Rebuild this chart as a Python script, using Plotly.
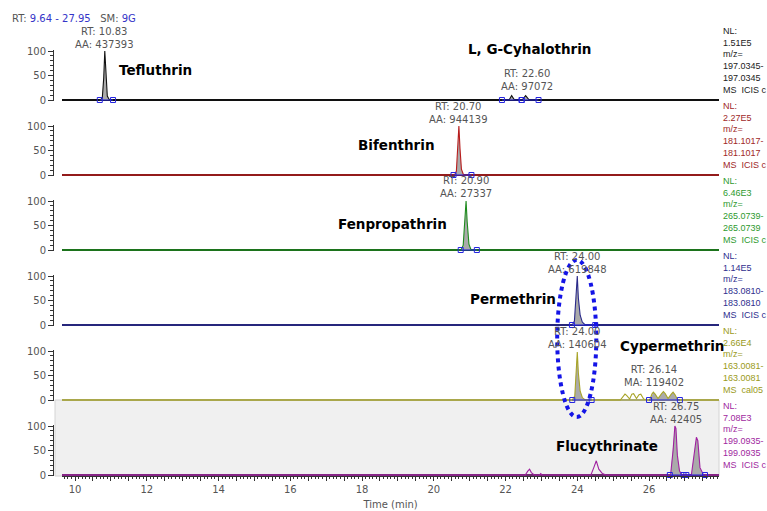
import plotly.graph_objects as go
import numpy as np

# ---------------- data ----------------
RT_WINDOW = [9.64, 27.95]

# panel 1 : m/z 197.0345 (Tefluthrin, L,G-Cyhalothrin)
time_1 = [9.64, 10.70, 10.76, 10.80, 10.83, 10.86, 10.90, 10.96, 22.10, 22.17, 22.25, 22.46, 22.56, 22.66, 22.80, 27.95]
inten_1 = [0, 0, 4, 45, 100, 50, 8, 0, 0, 9, 0, 0, 9, 0, 0, 0]
windows_1 = [(10.69, 11.06), (21.90, 22.45), (22.45, 22.92)]

# panel 2 : m/z 181.1017 (Bifenthrin)
time_2 = [9.64, 20.58, 20.63, 20.67, 20.70, 20.73, 20.77, 20.83, 27.95]
inten_2 = [0, 0, 8, 55, 100, 55, 12, 0, 0]
windows_2 = [(20.55, 21.05)]

# panel 3 : m/z 265.0739 (Fenpropathrin)
time_3 = [9.64, 20.76, 20.82, 20.87, 20.90, 20.93, 20.98, 21.04, 27.95]
inten_3 = [0, 0, 10, 62, 100, 58, 12, 0, 0]
windows_3 = [(20.75, 21.20)]

# panel 4 : m/z 183.0810 (Permethrin)
time_4 = [9.64, 23.86, 23.92, 23.97, 24.00, 24.03, 24.08, 24.14, 24.22, 27.95]
inten_4 = [0, 0, 8, 60, 100, 55, 20, 6, 0, 0]
windows_4 = [(23.85, 24.50)]

# panel 5 : m/z 163.0081 (Cypermethrin)
time_5 = [9.64, 23.86, 23.93, 23.97, 24.00, 24.03, 24.08, 24.14, 24.22, 25.20, 25.28, 25.33, 25.38,
          25.46, 25.52, 25.57, 25.65, 25.72, 25.77, 25.85, 25.95, 26.02, 26.08, 26.12, 26.17, 26.25,
          26.35, 26.40, 26.45, 26.53, 26.62, 26.67, 26.72, 26.80, 27.95]
inten_5 = [0, 0, 8, 60, 98, 55, 18, 5, 0, 0, 9, 12, 9, 2, 12, 13, 3, 11, 12, 2, 0, 0, 12, 16, 12, 3,
           13, 17, 13, 3, 12, 16, 11, 0, 0]
windows_5 = [(23.86, 24.40), (26.00, 26.86)]

# panel 6 : m/z 199.0935 (Flucythrinate)
time_6 = [9.64, 22.55, 22.62, 22.67, 22.72, 22.80, 22.95, 22.98, 23.02, 24.38, 24.46, 24.53, 24.60,
          24.70, 24.80, 26.60, 26.67, 26.72, 26.75, 26.79, 26.85, 26.92, 27.18, 27.25, 27.32, 27.36,
          27.42, 27.52, 27.95]
inten_6 = [0, 0, 8, 12, 5, 0, 0, 3, 0, 0, 15, 29, 12, 3, 0, 0, 50, 100, 95, 40, 8, 0, 0, 35, 77, 70,
           15, 0, 0]
windows_6 = [(26.58, 26.96), (27.04, 27.56)]

times = [time_1, time_2, time_3, time_4, time_5, time_6]
intens = [inten_1, inten_2, inten_3, inten_4, inten_5, inten_6]
windows = [windows_1, windows_2, windows_3, windows_4, windows_5, windows_6]

nl_values = ["1.51E5", "2.27E5", "6.46E3", "1.14E5", "2.66E4", "7.08E3"]
mz_values = ["197.0345", "181.1017", "265.0739", "183.0810", "163.0081", "199.0935"]
ms_labels = ["MS\u00a0 ICIS c", "MS\u00a0 ICIS c", "MS\u00a0 ICIS c", "MS\u00a0 ICIS c", "MS\u00a0 cal05", "MS\u00a0 ICIS c"]

label_panel = [1, 1, 2, 3, 4, 5, 5, 6]
label_rt = [10.83, 22.60, 20.70, 20.90, 24.00, 24.00, 26.14, 26.75]
label_area = ["AA: 437393", "AA: 97072", "AA: 944139", "AA: 27337", "AA: 619848",
              "AA: 140604", "MA: 119402", "AA: 42405"]

compound_names = ["Tefluthrin", "L, G-Cyhalothrin", "Bifenthrin", "Fenpropathrin",
                  "Permethrin", "Cypermethrin", "Flucythrinate"]

x_tick_labels = ["10", "12", "14", "16", "18", "20", "22", "24", "26"]

# ---------------- layout / style ----------------
FIG_W, FIG_H = 767, 511
ML, MR, MT, MB = 53, 48, 24, 35
PLOT_W = FIG_W - ML - MR
PLOT_H = FIG_H - MT - MB


def px_x(px):
    return (px - ML) / PLOT_W


def px_y(py):
    return (FIG_H - MB - py) / PLOT_H


baselines_px = [100, 175, 250, 325, 400, 475]
full_px = 49.0          # pixels for 0..100 %
yr = [-2, 102]
dom_h = full_px * (yr[1] - yr[0]) / 100.0
below = full_px * (0 - yr[0]) / 100.0

line_colors = ["#111111", "#B81C1C", "#1E8C1E", "#2A2A8A", "#A8A428", "#A020A0"]
base_colors = ["#111111", "#6E1A1A", "#1A5A1A", "#22226E", "#ABAB6E", "#6E2A6E"]
nl_colors = ["#222222", "#A02828", "#2E9A2E", "#2E2E8E", "#9A9A20", "#A028A0"]
label_offset_px = [62, 20, 62, 63, 62, 62, 24, 62]
name_pos_px = [(155, 70), (529, 49), (396, 145), (392, 224), (513, 299), (672, 346), (607, 446)]

TXT = "DejaVu Sans"
GRAY = "#555555"
AXC = "#333333"

fig = go.Figure()

for k in range(6):
    ya = "y" if k == 0 else f"y{k + 1}"
    t = np.array(times[k])
    v = np.array(intens[k])
    # grey integrated areas
    for (s, e) in windows[k]:
        m = (t >= s) & (t <= e)
        fig.add_trace(go.Scatter(x=t[m], y=v[m], mode="lines", fill="tozeroy",
                                 fillcolor="rgba(165,165,165,0.95)", line=dict(width=0),
                                 yaxis=ya, hoverinfo="skip", showlegend=False))
    # chromatogram
    fig.add_trace(go.Scatter(x=times[k], y=intens[k], mode="lines",
                             line=dict(color=line_colors[k], width=1.1),
                             yaxis=ya, hoverinfo="skip", showlegend=False))
    # integration baseline markers
    for (s, e) in windows[k]:
        fig.add_trace(go.Scatter(x=[s, e], y=[0, 0], mode="lines+markers",
                                 line=dict(color="#2424E0", width=1),
                                 marker=dict(symbol="square-open", size=5, color="#2424E0",
                                             line=dict(width=1)),
                                 cliponaxis=False, yaxis=ya, hoverinfo="skip", showlegend=False))

layout = dict(
    width=FIG_W, height=FIG_H,
    margin=dict(l=ML, r=MR, t=MT, b=MB, autoexpand=False),
    paper_bgcolor="white", plot_bgcolor="rgba(0,0,0,0)",
    hovermode=False, showlegend=False,
    font=dict(family=TXT, size=10, color=GRAY),
)

x_dom0 = px_x(62.1)
tickvals = list(np.arange(10, 27.51, 0.5))
ticktext = [x_tick_labels[int((tv - 10) / 2)] if abs(tv - round(tv)) < 1e-9 and int(round(tv)) % 2 == 0 else ""
            for tv in tickvals]
layout["xaxis"] = dict(
    domain=[x_dom0, 1], range=RT_WINDOW, anchor="y6", automargin=False,
    showline=True, linecolor=AXC, linewidth=1, showgrid=False, zeroline=False,
    ticks="outside", tickvals=tickvals, ticktext=ticktext, ticklen=4, tickcolor=AXC,
    minor=dict(dtick=0.1, tick0=0, ticklen=2, ticks="outside", tickcolor=AXC, showgrid=False),
    tickfont=dict(family=TXT, size=10, color=GRAY),
    title=dict(text="Time (min)", font=dict(family=TXT, size=10, color=GRAY), standoff=7),
)

for k in range(6):
    base = baselines_px[k]
    d0 = px_y(base + below)
    d1 = px_y(base + below - dom_h)
    key = "yaxis" if k == 0 else f"yaxis{k + 1}"
    layout[key] = dict(
        domain=[max(0, d0), min(1, d1)], range=yr, anchor="free", position=0, automargin=False,
        showline=True, linecolor=AXC, linewidth=1, showgrid=False,
        zeroline=True, zerolinecolor=base_colors[k], zerolinewidth=2,
        ticks="outside", tickvals=[0, 50, 100], ticklen=5, tickcolor=AXC,
        minor=dict(dtick=10, tick0=0, ticklen=3, ticks="outside", tickcolor=AXC, showgrid=False),
        tickfont=dict(family=TXT, size=10, color=GRAY),
    )

fig.update_layout(**layout)

# grey active pane (bottom panel)
fig.add_shape(type="rect", xref="paper", yref="paper",
              x0=px_x(55), x1=1, y0=0, y1=px_y(400),
              fillcolor="#F0F0F0", line=dict(color="#D4D4D4", width=1), layer="below")

# blue dotted ellipse
fig.add_shape(type="circle", xref="x", yref="paper",
              x0=23.44, x1=24.53, y0=px_y(417), y1=px_y(260),
              line=dict(color="#1414E6", width=4, dash="dot"), layer="above")

# header
fig.add_annotation(xref="paper", yref="paper", x=px_x(10), y=px_y(18), xanchor="left", yanchor="middle",
                   showarrow=False,
                   text="RT: <span style='color:#3434C8'>9.64 - 27.95</span>\u00a0\u00a0 SM: <span style='color:#3434C8'>9G</span>",
                   font=dict(family=TXT, size=10, color=GRAY))

# peak labels
for j in range(len(label_rt)):
    base = baselines_px[label_panel[j] - 1]
    fig.add_annotation(xref="x", yref="paper", x=label_rt[j], y=px_y(base - label_offset_px[j]),
                       xanchor="center", yanchor="middle", showarrow=False,
                       text=f"RT: {label_rt[j]:.2f}<br>{label_area[j]}",
                       font=dict(family=TXT, size=10, color=GRAY))

# compound names
for j, name in enumerate(compound_names):
    cx, cy = name_pos_px[j]
    fig.add_annotation(xref="paper", yref="paper", x=px_x(cx), y=px_y(cy),
                       xanchor="center", yanchor="middle", showarrow=False,
                       text=f"<b>{name}</b>", font=dict(family=TXT, size=13.5, color="black"))

# NL blocks
for k in range(6):
    base = baselines_px[k]
    fig.add_annotation(xref="paper", yref="paper", x=px_x(721), y=px_y(base - 40),
                       xanchor="left", yanchor="middle", align="left", showarrow=False,
                       text=f"NL:<br>{nl_values[k]}<br>m/z=<br>{mz_values[k]}-<br>{mz_values[k]}<br>{ms_labels[k]}",
                       font=dict(family="Liberation Sans", size=9, color=nl_colors[k]))

fig.write_html("out.html")
